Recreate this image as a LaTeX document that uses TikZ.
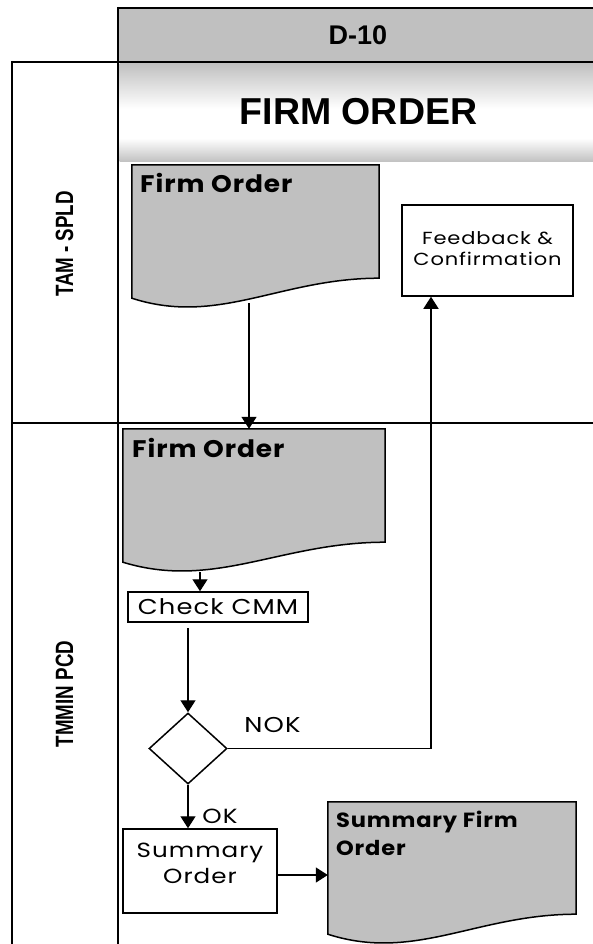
\documentclass[tikz,border=0pt]{standalone}
\usepackage{fontspec}
\setmainfont{Poppins}[FakeStretch=1.2, LetterSpace=5, BoldFeatures={FakeStretch=1.1, LetterSpace=4}]
\newfontfamily\arialb{Liberation Sans}
\newfontfamily\narrowb[FakeStretch=0.75]{Liberation Sans}
\usetikzlibrary{arrows.meta,shapes.geometric,calc}
\definecolor{docgray}{RGB}{192,192,192}
\pgfdeclareverticalshading{bandshade}{100bp}{color(0bp)=(docgray); color(25bp)=(docgray); color(37bp)=(white); color(52bp)=(white); color(75bp)=(docgray); color(100bp)=(docgray)}
\newcommand\docwave[1]{%
  \draw[docline] (#1.north west) -- (#1.north east) -- (#1.south east)
    .. controls ($(#1.south west)!0.6!(#1.south east)$) and ($(#1.south west)!0.35!(#1.south east)+(0,48)$)
    .. ($(#1.south west)+(0,20)$) -- cycle;}
\begin{document}
\begin{tikzpicture}[x=1pt,y=-1pt,
  vlane/.style={line width=2.8pt},
  hlane/.style={line width=2.3pt},
  docline/.style={draw, line width=1.5pt, fill=docgray, line join=miter},
  docbox/.style={rectangle, draw=none, inner sep=0pt},
  procbox/.style={rectangle, draw, line width=1.5pt, fill=white, inner sep=0pt, align=center},
  decision/.style={diamond, draw, line width=1.5pt, fill=white, inner sep=0pt},
  arr/.style={line width=1.4pt, -{Triangle[width=15pt,length=12pt]}},
  doctitle/.style={inner sep=0pt, font=\bfseries\fontsize{24}{28}\selectfont},
  doctitlesm/.style={inner sep=0pt, font=\bfseries\fontsize{20.5}{28}\selectfont},
  bodytext/.style={font=\fontsize{21.5}{26}\selectfont},
  lanelabel/.style={rotate=90, anchor=base, inner sep=0pt, font=\narrowb\bfseries\fontsize{25}{28}\selectfont}
]
\useasboundingbox (0,0) rectangle (593,944);
\clip (0,0) rectangle (593,944);

% header
\path[fill=docgray] (118,8) rectangle (600,62);
\path[shading=bandshade] (119.5,63.2) rectangle (600,162);
\draw[hlane] (118,8) -- (600,8);
\draw[hlane] (12,62) -- (600,62);
\draw[hlane] (12,423) -- (600,423);
\draw[vlane] (12,60.8) -- (12,950);
\draw[vlane] (118,6.8) -- (118,950);

\node[anchor=base, inner sep=0pt, font=\arialb\bfseries\fontsize{27}{30}\selectfont] (d10) at (358,45) {D-10};
\node[anchor=base, inner sep=0pt, font=\arialb\bfseries\fontsize{37.5}{40}\selectfont] (title) at (358.5,125) {FIRM ORDER};

\node[lanelabel] (lane1) at (73,244) {TAM - SPLD};
\node[lanelabel] (lane2) at (73,694) {TMMIN PCD};

% documents
\node[docbox, minimum width=247pt, minimum height=113pt] (doc1) at (255.5,221.5) {};
\docwave{doc1}
\node[doctitle, anchor=base west] (doc1t) at (140,193) {Firm Order};

\node[docbox, minimum width=262pt, minimum height=113pt] (doc2) at (254,485.5) {};
\docwave{doc2}
\node[doctitle, anchor=base west] (doc2t) at (132,457) {Firm Order};

\node[docbox, minimum width=248pt, minimum height=112pt] (sfo) at (452,858) {};
\docwave{sfo}
\node[doctitlesm, anchor=base west] (sfot) at (336,827) {\begin{tabular}[t]{@{}l@{}}Summary Firm\\Order\end{tabular}};

% process boxes
\node[procbox, minimum width=171pt, minimum height=91pt, font=\fontsize{17.5}{21}\selectfont] (fb) at (487.5,250.5)
  {\begin{tabular}{@{}c@{}}Feedback \&\\Confirmation\end{tabular}};
\node[procbox, minimum width=180pt, minimum height=30pt, bodytext] (chk) at (218,607) {Check CMM};
\node[decision, minimum width=78pt, minimum height=71pt] (dia) at (188,748.5) {};
\node[procbox, minimum width=154pt, minimum height=84pt, font=\fontsize{20.5}{26}\selectfont] (sum) at (200,871)
  {\raisebox{6pt}[\height][\depth]{\begin{tabular}{@{}c@{}}Summary\\Order\end{tabular}}};

% labels
\node[anchor=base, inner sep=0pt, bodytext] (nok) at (272.5,732) {NOK};
\node[anchor=base, inner sep=0pt, font=\fontsize{20.5}{24}\selectfont] (ok) at (220,823) {OK};

% connectors
\coordinate (c1) at (249,303);
\draw[arr] (c1) -- (c1 |- doc2.north);
\coordinate (c2) at (200,572);
\draw[arr] (c2) -- (c2 |- chk.north);
\coordinate (c3) at (188,628);
\draw[arr] (c3) -- (dia.north);
\draw[arr] (dia.south) -- (dia.south |- sum.north);
\coordinate (c4) at (431,750);
\draw[arr] (dia.east) -- (dia.east -| c4) -- (c4 |- fb.south);
\draw[arr] ([yshift=-4pt]sum.east) -- ([yshift=-4pt]sum.east -| sfo.west);
\end{tikzpicture}
\end{document}
